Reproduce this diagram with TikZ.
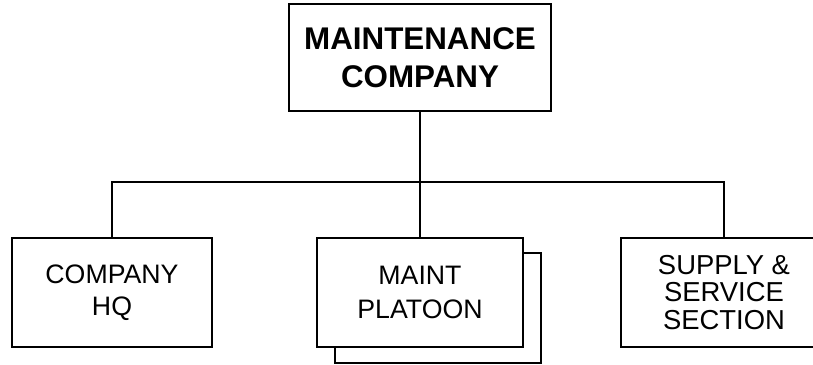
\documentclass[tikz,border=0pt]{standalone}
\usepackage{fontspec}
\setmainfont{Liberation Sans}
\begin{document}
\begin{tikzpicture}[x=0.25mm, y=0.25mm,
    unit/.style={draw, line width=1.4pt, fill=white, align=center, inner sep=0pt},
    link/.style={line width=1.3pt}]
    \clip (0,0) rectangle (813,364);
    \node[unit, minimum width=65.5mm, minimum height=26.75mm, font=\bfseries\fontsize{22.3}{27}\selectfont] (coy) at (420,306.5) {MAINTENANCE\\COMPANY};
    \node[unit, minimum width=50mm, minimum height=27.25mm, font=\fontsize{19}{22.7}\selectfont] (hq) at (112,71.5) {COMPANY\\HQ};
    \node[unit, minimum width=51.5mm, minimum height=27.5mm] (plt2) at (438,56) {};
    \node[unit, minimum width=51.5mm, minimum height=27.25mm, font=\fontsize{19}{24}\selectfont] (plt) at (420,71.5) {MAINT\\PLATOON};
    \node[unit, minimum width=51.5mm, minimum height=27.25mm, font=\fontsize{19.5}{19.5}\selectfont] (sup) at (724,71.5) {SUPPLY \&\\SERVICE\\SECTION};
    \coordinate (bar) at (420,182);
    \draw[link] (coy) -- (plt);
    \draw[link] (hq.north) |- (bar) -| (sup.north);
\end{tikzpicture}
\end{document}
